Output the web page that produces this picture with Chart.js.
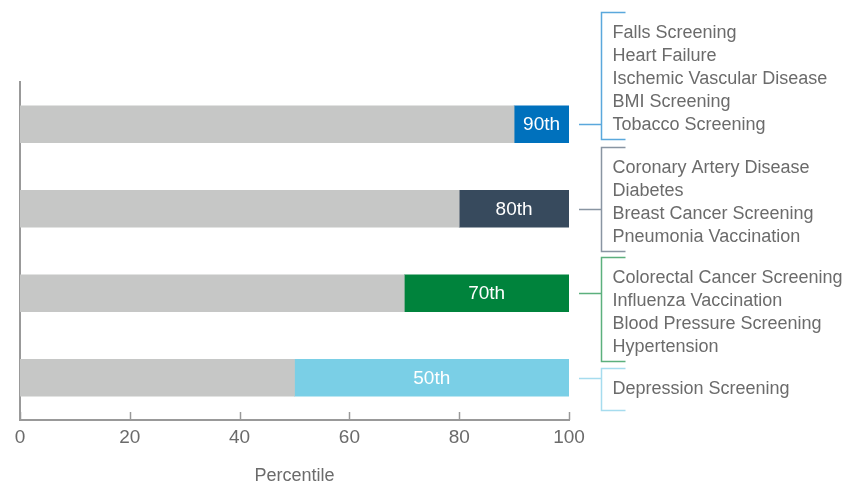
<!DOCTYPE html>
<html>
<head>
<meta charset="utf-8">
<script src="https://cdn.jsdelivr.net/npm/chart.js@4.4.1/dist/chart.umd.min.js"></script>
<style>
  html, body { margin: 0; padding: 0; background: #fff; }
  #wrap { width: 856px; height: 483px; }
</style>
</head>
<body>
<div id="wrap"><canvas id="chart" width="856" height="483"></canvas></div>
<script>
const tiers = ["90th", "80th", "70th", "50th"];
const baseValues = [90, 80, 70, 50];
const tierValues = [10, 20, 30, 50];
const tierColors = ["#0071bd", "#374a5d", "#00833c", "#7acfe6"];
const bracketColors = ["#5aa8dc", "#8995a2", "#5cb07d", "#a6dcee"];
const measures = [
    ["Falls Screening", "Heart Failure", "Ischemic Vascular Disease", "BMI Screening", "Tobacco Screening"],
    ["Coronary Artery Disease", "Diabetes", "Breast Cancer Screening", "Pneumonia Vaccination"],
    ["Colorectal Cancer Screening", "Influenza Vaccination", "Blood Pressure Screening", "Hypertension"],
    ["Depression Screening"]
];
// first text line offset from bar centre, per group
const textOffsets = [-91, -41, -15, 11];
const xTicks = [0, 20, 40, 60, 80, 100];

const FONT = "'Liberation Sans', Arial, sans-serif";
const lineH = 23;

// ticks pointing up from the x axis
const innerTicks = {
    id: "innerTicks",
    afterDraw(chart) {
        const ctx = chart.ctx;
        const x = chart.scales.x;
        const y0 = chart.chartArea.bottom;
        ctx.save();
        ctx.strokeStyle = "#999";
        ctx.lineWidth = 1.5;
        xTicks.forEach(v => {
            const px = Math.round(x.getPixelForValue(v)) + 0.5;
            ctx.beginPath();
            ctx.moveTo(px, y0);
            ctx.lineTo(px, y0 - 8);
            ctx.stroke();
        });
        ctx.restore();
    }
};

// tier labels inside the coloured segment
const tierLabels = {
    id: "tierLabels",
    afterDatasetsDraw(chart) {
        const ctx = chart.ctx;
        const meta = chart.getDatasetMeta(1);
        ctx.save();
        ctx.fillStyle = "#fff";
        ctx.font = "19px " + FONT;
        ctx.textAlign = "center";
        ctx.textBaseline = "middle";
        meta.data.forEach((bar, i) => {
            const cx = (bar.x + bar.base) / 2;
            ctx.fillText(tiers[i], cx, bar.y + 1);
        });
        ctx.restore();
    }
};

// brackets with the measure lists
const brackets = {
    id: "brackets",
    afterDraw(chart) {
        const ctx = chart.ctx;
        const meta = chart.getDatasetMeta(1);
        const right = chart.chartArea.right;
        const bx = right + 32.5;
        ctx.save();
        ctx.font = "18px " + FONT;
        ctx.textBaseline = "middle";
        ctx.textAlign = "left";
        meta.data.forEach((bar, i) => {
            const cy = Math.round(bar.y) + 0.5;
            const first = bar.y + textOffsets[i];
            const last = first + (measures[i].length - 1) * lineH;
            const top = Math.round(first - 21) + 0.5;
            const bottom = Math.round(last + (i === 3 ? 21 : 14)) + 0.5;
            ctx.strokeStyle = bracketColors[i];
            ctx.lineWidth = 1.5;
            ctx.beginPath();
            ctx.moveTo(right + 10, cy);
            ctx.lineTo(bx, cy);
            ctx.moveTo(bx + 24, top);
            ctx.lineTo(bx, top);
            ctx.lineTo(bx, bottom);
            ctx.lineTo(bx + 24, bottom);
            ctx.stroke();
            ctx.fillStyle = "#6b6b6b";
            measures[i].forEach((m, j) => {
                ctx.fillText(m, bx + 11, first + j * lineH);
            });
        });
        ctx.restore();
    }
};

new Chart(document.getElementById("chart"), {
    type: "bar",
    data: {
        labels: tiers,
        datasets: [
            { data: baseValues, backgroundColor: "#c6c7c6", barThickness: 37 },
            { data: tierValues, backgroundColor: tierColors, barThickness: 37 }
        ]
    },
    options: {
        indexAxis: "y",
        responsive: false,
        animation: false,
        layout: { padding: { left: 20, right: 287, top: 82, bottom: -2 } },
        plugins: { legend: { display: false }, tooltip: { enabled: false } },
        scales: {
            x: {
                stacked: true,
                min: 0,
                max: 100,
                afterBuildTicks(scale) { scale.ticks = xTicks.map(v => ({ value: v })); },
                grid: { display: false, drawTicks: false },
                border: { display: true, color: "#999", width: 2 },
                ticks: { color: "#6b6b6b", font: { size: 19, family: FONT, lineHeight: 1 }, padding: 8 },
                title: { display: true, text: "Percentile", color: "#6b6b6b", font: { size: 18, family: FONT, lineHeight: 1 }, padding: { top: 12, bottom: 0 } }
            },
            y: {
                stacked: true,
                grid: { display: false, drawTicks: false },
                border: { display: true, color: "#999", width: 2 },
                ticks: { display: false }
            }
        }
    },
    plugins: [innerTicks, tierLabels, brackets]
});
</script>
</body>
</html>
